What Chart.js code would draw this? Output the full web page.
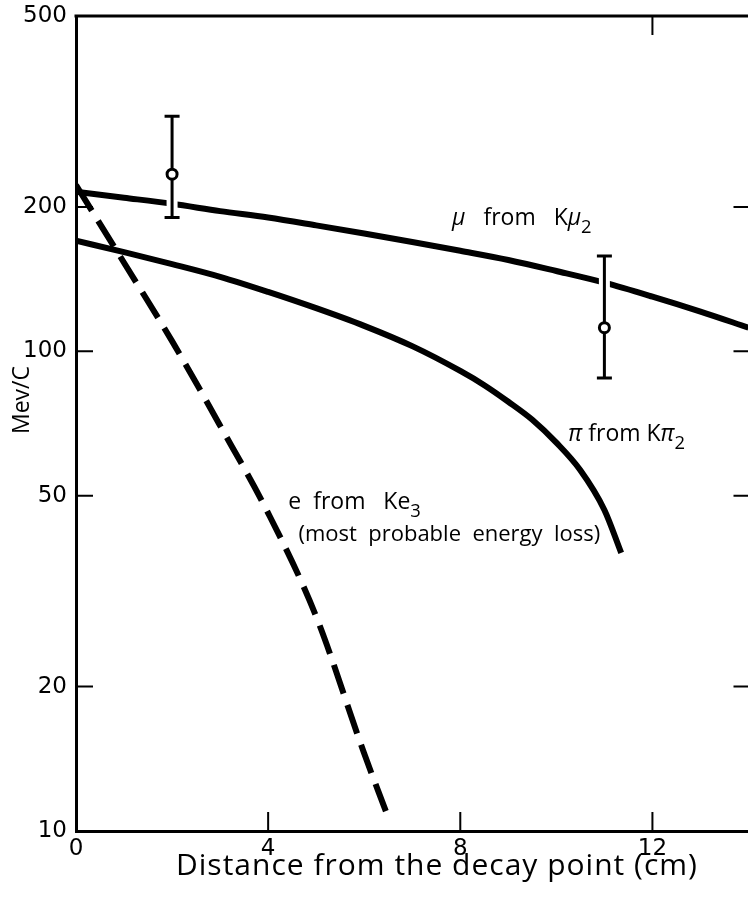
<!DOCTYPE html>
<html>
<head>
<meta charset="utf-8">
<title>Momentum vs distance from the decay point</title>
<script src="https://cdn.jsdelivr.net/npm/chart.js@4.4.0/dist/chart.umd.min.js"></script>
<style>
  html, body { margin: 0; padding: 0; background: #ffffff; }
  /* the canvas is a little wider than the page: Chart.js keeps a margin on the
     right for the error-bar caps, and that margin falls outside the window */
  #wrap { width: 748px; height: 897px; overflow: hidden; }
</style>
</head>
<body>
<div id="wrap"><canvas id="myChart"></canvas></div>
<script>
// Curves: distance (cm) and momentum (Mev/C)
const muX = [0, 1, 2, 3, 4, 5, 6, 7, 8, 9, 10, 11, 12, 13, 14];
const muY = [215, 209, 203, 196, 190, 183, 176, 169, 162, 155, 147, 139, 130, 121, 112];

const piX = [0, 1, 2, 3, 4, 5, 6, 7, 8, 8.5, 9, 9.5, 10, 10.5, 11, 11.35];
const piY = [170, 161, 152, 143, 133, 123, 113, 102.5, 91, 85, 78.5, 72, 64.5, 56.5, 46.7, 38];

const eX = [0, 1, 2, 3, 4, 5, 6, 6.45];
const eY = [222, 153, 105, 70, 46, 28, 14.5, 11];

// Measured points with their error bars
const pointX = [2, 11];
const pointY = [234, 112];
const pointLow = [190, 88];
const pointHigh = [309, 158];

// Tick labels
const xTicks = [0, 4, 8, 12];
const yTicks = [10, 20, 50, 100, 200, 500];

const FONT = "'Open Sans', 'Liberation Sans', sans-serif";
const TICK_FONT = "'DejaVu Sans', sans-serif";

const canvas = document.getElementById('myChart');
canvas.width = 759;
canvas.height = 897;
const ctx = canvas.getContext('2d');

function toPoints(xs, ys) {
  return xs.map(function(x, i) { return { x: x, y: ys[i] }; });
}

var datasets = [];

// the three curves
datasets.push({
  label: 'mu from K mu2',
  data: toPoints(muX, muY),
  borderColor: '#000000',
  borderWidth: 6,
  pointRadius: 0,
  cubicInterpolationMode: 'monotone',
  order: 10
});
datasets.push({
  label: 'pi from K pi2',
  data: toPoints(piX, piY),
  borderColor: '#000000',
  borderWidth: 6,
  pointRadius: 0,
  cubicInterpolationMode: 'monotone',
  order: 10
});
datasets.push({
  label: 'e from Ke3',
  data: toPoints(eX, eY),
  borderColor: '#000000',
  borderWidth: 6,
  borderDash: [30, 12],
  pointRadius: 0,
  cubicInterpolationMode: 'monotone',
  order: 10
});

// error bars: a white band first so the curve is broken around the bar
pointX.forEach(function(x, i) {
  var bar = [{ x: x, y: pointLow[i] }, { x: x, y: pointHigh[i] }];
  datasets.push({
    data: bar,
    borderColor: '#ffffff',
    borderWidth: 11,
    pointRadius: 0,
    order: 5
  });
  datasets.push({
    data: bar,
    borderColor: '#000000',
    borderWidth: 3,
    pointStyle: 'line',
    pointRadius: 7.5,
    pointBorderWidth: 3,
    pointBorderColor: '#000000',
    order: 4
  });
});

// open circles for the measured values
datasets.push({
  data: toPoints(pointX, pointY),
  showLine: false,
  pointStyle: 'circle',
  pointRadius: 5,
  pointBorderWidth: 3,
  pointBorderColor: '#000000',
  pointBackgroundColor: '#ffffff',
  order: 1
});

// Draws the text parts (normal, italic greek, subscript) one after another
function drawParts(c, x, y, parts, size) {
  var cx = x;
  parts.forEach(function(p) {
    var fs = p[1] === 'sub' ? size * 0.8 : size;
    c.font = (p[1] === 'i' ? 'italic ' : '') + fs + 'px ' + FONT;
    var dy = p[1] === 'sub' ? size * 0.35 : 0;
    c.fillText(p[0], cx, y + dy);
    cx += c.measureText(p[0]).width;
  });
}

// Frame, inward ticks, axis titles and curve labels
const decorPlugin = {
  id: 'decor',
  afterDatasetsDraw: function(chart, args, opts) {
    const c = chart.ctx;
    const area = chart.chartArea;
    const xs = chart.scales.x;
    const ys = chart.scales.y;
    c.save();
    c.strokeStyle = '#000000';
    c.fillStyle = '#000000';

    // top edge of the frame
    c.lineWidth = 3;
    c.beginPath();
    c.moveTo(area.left - 1.5, area.top);
    c.lineTo(area.right, area.top);
    c.stroke();

    // inward ticks
    c.lineWidth = 2;
    c.beginPath();
    yTicks.slice(1, -1).forEach(function(v) {
      const py = ys.getPixelForValue(v);
      c.moveTo(area.left, py);
      c.lineTo(area.left + 17, py);
      c.moveTo(area.right - 15, py);
      c.lineTo(area.right, py);
    });
    xTicks.slice(1).forEach(function(v) {
      const px = xs.getPixelForValue(v);
      c.moveTo(px, area.bottom);
      c.lineTo(px, area.bottom - 19);
    });
    const topPx = xs.getPixelForValue(xTicks[xTicks.length - 1]);
    c.moveTo(topPx, area.top);
    c.lineTo(topPx, area.top + 19);
    c.stroke();

    // axis titles
    c.textBaseline = 'middle';
    c.textAlign = 'left';
    c.font = '30px ' + FONT;
    c.letterSpacing = '1px';
    c.fillText(opts.xTitle, 176, 866);
    c.letterSpacing = '0px';
    c.save();
    c.translate(22, 400);
    c.rotate(-Math.PI / 2);
    c.textAlign = 'center';
    c.font = '23px ' + FONT;
    c.fillText(opts.yTitle, 0, 0);
    c.restore();

    // curve labels
    c.textBaseline = 'alphabetic';
    c.textAlign = 'left';
    opts.labels.forEach(function(l) {
      drawParts(c, xs.getPixelForValue(l.x), ys.getPixelForValue(l.y), l.parts, l.size);
    });
    c.restore();
  }
};

var chartOptions = {
  responsive: false,
  animation: false,
  layout: { padding: { top: 16, right: 0, bottom: 0, left: 0 } },
  plugins: {
    legend: { display: false },
    tooltip: { enabled: false },
    decor: {
      xTitle: 'Distance from the decay point (cm)',
      yTitle: 'Mev/C',
      labels: [
        { x: 7.83, y: 183, size: 23, parts: [['\u03bc', 'i'], ['   from   K', ''], ['\u03bc', 'i'], ['2', 'sub']] },
        { x: 10.25, y: 65, size: 23, parts: [['\u03c0', 'i'], [' from K', ''], ['\u03c0', 'i'], ['2', 'sub']] },
        { x: 4.42, y: 47, size: 23, parts: [['e  from   Ke', ''], ['3', 'sub']] },
        { x: 4.63, y: 40.3, size: 22, parts: [['(most  probable  energy  loss)', '']] }
      ]
    }
  },
  scales: {
    x: {
      type: 'linear',
      min: 0,
      max: 14,
      afterBuildTicks: function(s) { s.ticks = xTicks.map(function(v) { return { value: v }; }); },
      afterFit: function(s) { s.height = 66; s.paddingLeft = 0; s.paddingRight = 0; },
      grid: { display: false, drawTicks: false },
      border: { display: true, color: '#000000', width: 3 },
      ticks: { color: '#000000', font: { family: TICK_FONT, size: 23 }, padding: 4, maxRotation: 0 }
    },
    y: {
      type: 'logarithmic',
      min: 10,
      max: 500,
      afterBuildTicks: function(s) { s.ticks = yTicks.map(function(v) { return { value: v }; }); },
      afterFit: function(s) { s.width = 76; s.paddingTop = 0; s.paddingBottom = 0; },
      grid: { display: false, drawTicks: false },
      border: { display: true, color: '#000000', width: 3 },
      ticks: {
        color: '#000000',
        font: { family: TICK_FONT, size: 23 },
        padding: 9,
        callback: function(v) { return String(v); }
      }
    }
  }
};

// Create the chart
var myChart = new Chart(ctx, {
  type: 'line',
  data: { datasets: datasets },
  options: chartOptions,
  plugins: [decorPlugin]
});
</script>
</body>
</html>
